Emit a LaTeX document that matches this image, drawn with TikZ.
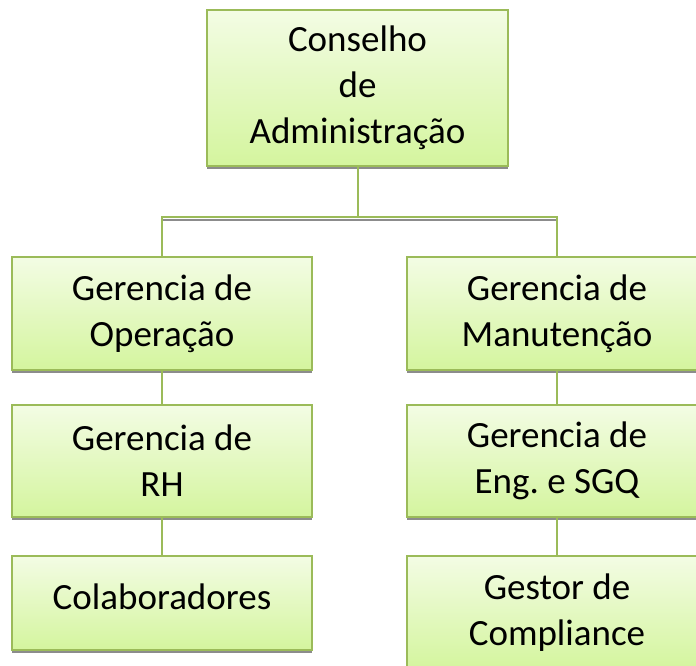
\documentclass[tikz,border=0pt]{standalone}
\usepackage{fontspec}
\setmainfont{Carlito}
\usetikzlibrary{shadows}
\definecolor{borda}{RGB}{155,187,89}
\definecolor{topo}{RGB}{243,252,228}
\definecolor{base}{RGB}{212,245,158}
\definecolor{sombra}{RGB}{140,140,140}
\begin{document}
\begin{tikzpicture}
[x=1pt,y=-1pt,
caixa/.style={rectangle,draw=borda,line width=2pt,top color=topo,bottom color=base,
  minimum width=300pt,align=center,inner sep=0pt,
  drop shadow={shadow xshift=0pt,shadow yshift=-3pt,fill=sombra,opacity=1}},
lig/.style={draw=borda,line width=2pt},
font=\fontsize{37}{46}\selectfont]
\clip (0,0) rectangle (696,666);
%%%%% TOPO
\node[caixa,minimum width=301pt,minimum height=156pt] (conselho) at (357.5,88) {Conselho\\ de\\Administração};
\coordinate (barra) at (357.5,217);
%%%%% COLUNA ESQUERDA
\node[caixa,minimum height=113pt] (gop) at (162,313.5) {Gerencia de\\Operação};
\node[caixa,minimum height=112pt] (grh) at (162,461) {Gerencia de\\RH};
\node[caixa,minimum height=94pt] (colab) at (162,603) {\raisebox{12pt}{Colaboradores}};
%%%%% COLUNA DIREITA
\node[caixa,minimum height=113pt] (gman) at (557,313.5) {Gerencia de\\Manutenção};
\node[caixa,minimum height=112pt] (geng) at (557,461) {Gerencia de\\Eng.\ e SGQ};
\node[caixa,minimum height=113pt] (gcomp) at (557,612.5) {Gestor de\\Compliance};
%%%%% LIGACOES
\draw[sombra,line width=2pt] ([yshift=-3pt]barra -| gop.north) -- ([yshift=-3pt]barra -| gman.north);
\path[lig] (conselho.south) -- (barra) -| (gop.north);
\path[lig] (barra) -| (gman.north);
\path[lig] (gop) -- (grh);
\path[lig] (grh) -- (colab);
\path[lig] (gman) -- (geng);
\path[lig] (geng) -- (gcomp);
\end{tikzpicture}
\end{document}
